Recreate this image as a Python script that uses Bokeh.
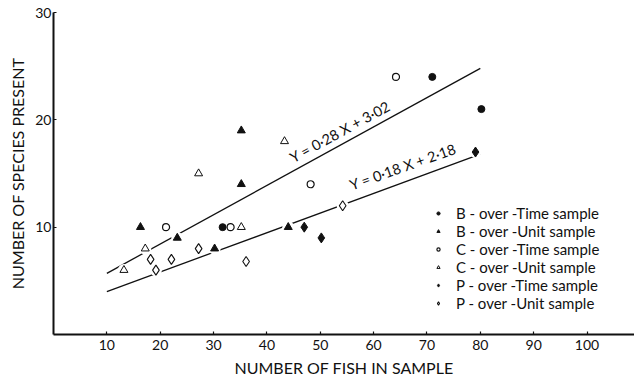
import math
from bokeh.plotting import figure
from bokeh.models import Range1d, FixedTicker, Legend, LegendItem
from bokeh.core.properties import value
from bokeh.embed import file_html
from bokeh.resources import INLINE

# ---- data ----
b_time_x = [31.7, 71.0, 80.2]
b_time_y = [10, 24, 21]
b_unit_x = [16.3, 23.2, 30.2, 35.2, 35.2, 44.0]
b_unit_y = [10, 9, 8, 14, 19, 10]
c_time_x = [21.1, 33.2, 48.2, 64.2]
c_time_y = [10, 10, 14, 24]
c_unit_x = [13.2, 17.2, 27.2, 35.2, 43.3]
c_unit_y = [6, 8, 15, 10, 18]
p_time_x = [47.0, 50.2, 79.1]
p_time_y = [10, 9, 17]
p_unit_x = [18.2, 19.2, 22.1, 27.2, 36.1, 54.2]
p_unit_y = [7, 6, 7, 8, 6.8, 12]

fit_x = [10, 80]
fit1_y = [5.7, 24.8]
fit2_y = [4.0, 16.8]

x_ticks = [10, 20, 30, 40, 50, 60, 70, 80, 90, 100]
y_ticks = [10, 20, 30]

labels = ["B - over -Time sample", "B - over -Unit sample",
          "C - over -Time sample", "C - over -Unit sample",
          "P - over -Time sample", "P - over -Unit sample"]
eq1 = "Y = 0\u00b728 X + 3\u00b702"
eq2 = "Y = 0\u00b718 X + 2\u00b718"

FONT = "Lato"
INK = "#111111"

p = figure(width=634, height=380, output_backend="svg", toolbar_location=None,
           x_range=Range1d(0, 108.9), y_range=Range1d(0, 30),
           min_border_left=53, min_border_right=0, min_border_top=12,
           min_border_bottom=46)
p.grid.visible = False
p.outline_line_color = None

for ax in (p.xaxis[0], p.yaxis[0]):
    ax.axis_line_width = 2
    ax.axis_line_color = INK
    ax.major_tick_line_color = INK
    ax.major_tick_line_width = 1.2
    ax.major_tick_in = 3
    ax.major_tick_out = 0
    ax.minor_tick_line_color = None
    ax.major_label_text_font = FONT
    ax.major_label_text_font_size = "14px"
    ax.major_label_text_color = INK
    ax.axis_label_text_font = FONT
    ax.axis_label_text_font_size = "16px"
    ax.axis_label_text_font_style = "normal"
    ax.axis_label_text_color = INK

p.xaxis.ticker = FixedTicker(ticks=x_ticks)
p.yaxis.ticker = FixedTicker(ticks=y_ticks)
p.xaxis.axis_label = "NUMBER OF FISH IN SAMPLE"
p.yaxis.axis_label = "NUMBER OF SPECIES PRESENT"
p.xaxis.major_label_standoff = 5
p.xaxis.axis_label_standoff = 5
p.yaxis.major_label_standoff = 2
p.yaxis.axis_label_standoff = 5

# regression lines
p.line(fit_x, fit1_y, line_color=INK, line_width=1.3)
p.line(fit_x, fit2_y, line_color=INK, line_width=1.3)

# white halos break the lines around markers
all_x = b_time_x + b_unit_x + c_time_x + c_unit_x + p_time_x + p_unit_x
all_y = b_time_y + b_unit_y + c_time_y + c_unit_y + p_time_y + p_unit_y
p.scatter(all_x, all_y, size=12, marker="circle", fill_color="white", line_color=None)

r1 = p.scatter(b_time_x, b_time_y, marker="circle", size=7, fill_color=INK, line_color=INK)
r2 = p.scatter(b_unit_x, b_unit_y, marker="triangle", size=8, fill_color=INK, line_color=INK)
r3 = p.scatter(c_time_x, c_time_y, marker="circle", size=7, fill_color="white", line_color=INK, line_width=1.2)
r4 = p.scatter(c_unit_x, c_unit_y, marker="triangle", size=8, fill_color="white", line_color=INK, line_width=1)
r5 = p.scatter(p_time_x, p_time_y, marker="diamond", size=10, fill_color=INK, line_color=INK)
r6 = p.scatter(p_unit_x, p_unit_y, marker="diamond", size=10, fill_color="white", line_color=INK, line_width=1.1)

p.text(x=[44.5], y=[16.4], text=[eq1], angle=math.radians(28.7),
       text_font=value(FONT), text_font_size="14.5px", text_color=INK,
       text_align="left", text_baseline="alphabetic")
p.text(x=[55.6], y=[13.9], text=[eq2], angle=math.radians(19.5),
       text_font=value(FONT), text_font_size="14.5px", text_color=INK,
       text_align="left", text_baseline="alphabetic")

legend = Legend(items=[LegendItem(label=l, renderers=[r]) for l, r in
                       zip(labels, [r1, r2, r3, r4, r5, r6])],
                location=(381, 22), glyph_width=8, glyph_height=8,
                label_standoff=14, spacing=-2, label_height=16, padding=0, margin=0,
                label_text_font=FONT, label_text_font_size="15px",
                label_text_color=INK, border_line_color=None,
                background_fill_alpha=0)
p.add_layout(legend)

open("out.html", "w").write(file_html(p, INLINE))
